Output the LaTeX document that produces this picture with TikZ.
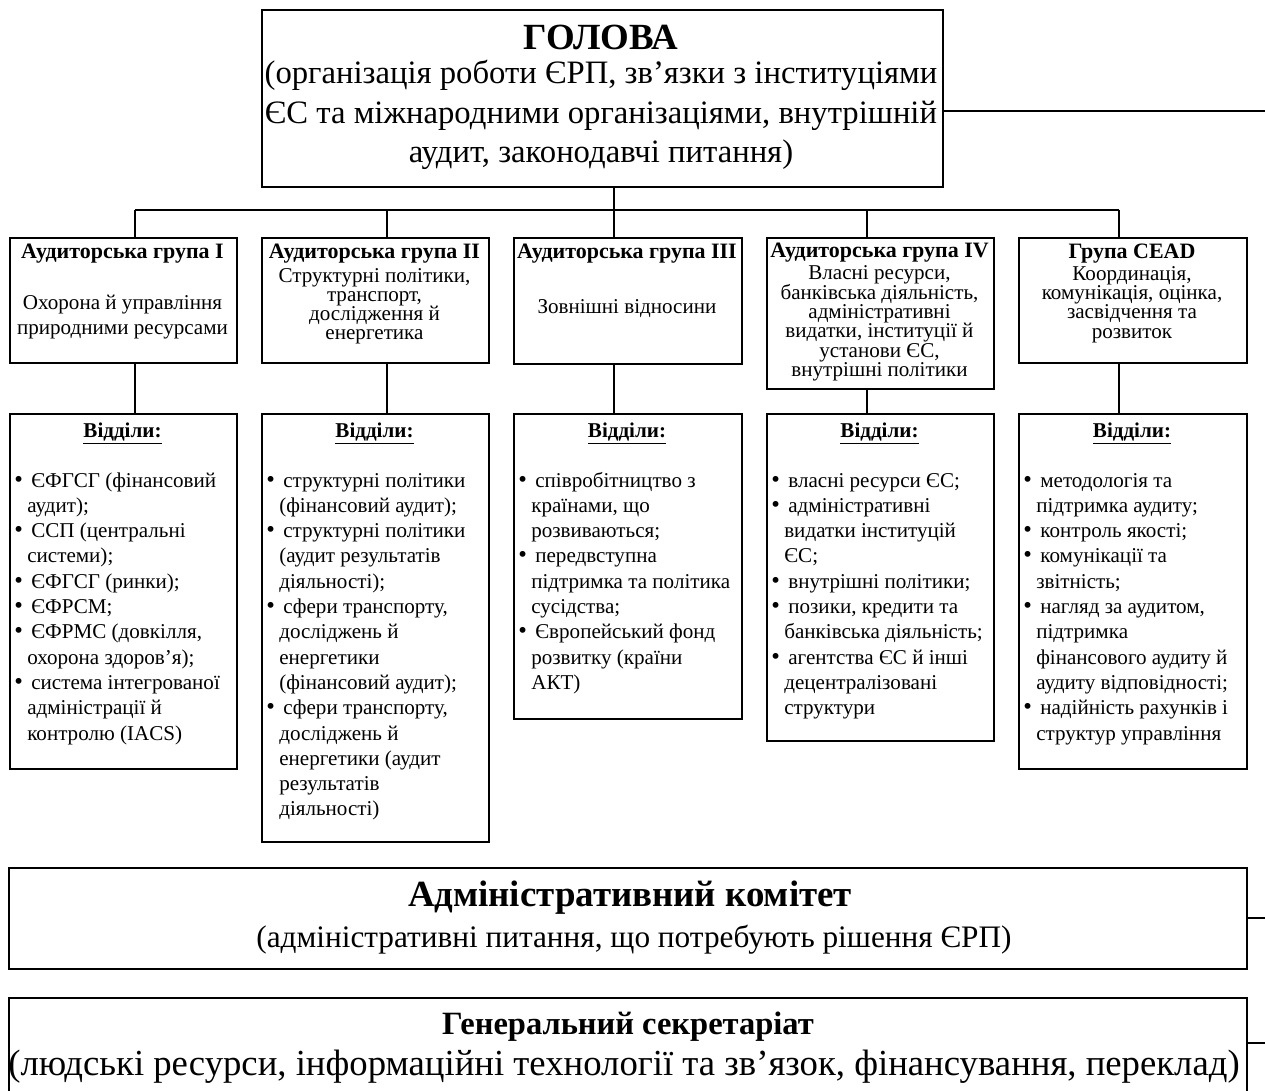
\documentclass[tikz,border=0pt]{standalone}
\usepackage{fontspec}
\setmainfont{Liberation Serif}
\usetikzlibrary{positioning}
\newlength{\px}\setlength{\px}{0.02cm}
\newcommand{\itm}{\hspace{1.2pt}{\fontsize{14}{14.4}\selectfont\textbullet}&\hspace{2.3pt}}
\newenvironment{deps}{\begin{tabular}{@{}p{8.5pt}@{}l@{}}}{\end{tabular}}
\tikzset{
  box/.style={draw, line width=0.9pt, inner sep=0pt, anchor=north west},
  link/.style={line width=0.9pt},
  grphead/.style={inner sep=0pt, anchor=north, font=\fontsize{12.5}{14}\selectfont\bfseries},
  grpbody/.style={inner sep=0pt, anchor=north, align=center, font=\fontsize{12}{#1}\selectfont,
    execute at begin node={\lineskiplimit=-10pt\relax}},
  depthead/.style={inner sep=0pt, anchor=north, font=\fontsize{12}{14}\selectfont\bfseries},
  deplist/.style={inner sep=0pt, anchor=north west, font=\fontsize{12}{14.4}\selectfont},
  bigttl/.style={inner sep=0pt, anchor=north, font=\fontsize{#1}{#1}\selectfont\bfseries},
  bigtxt/.style={inner sep=0pt, anchor=north, align=center, font=\fontsize{#1}{22.5}\selectfont}
}
\begin{document}
\begin{tikzpicture}[x=0.02cm,y=-0.02cm]
\useasboundingbox (0,0) rectangle (1265,1091);
\clip (0,0) rectangle (1265,1091);

% chairman
\node[box, minimum width=681*\px, minimum height=177*\px] (head) at (261,9) {};
\node[bigttl=21] (headttl) at (601,25) {ГОЛОВА};
\node[bigtxt=18.6] (headtxt) at (601,60) {(організація роботи ЄРП, зв’язки з інституціями\\ЄС та міжнародними організаціями, внутрішній\\аудит, законодавчі питання)};

% audit groups
\node[box, minimum width=227*\px, minimum height=125*\px] (g1) at (9,237) {};
\node[box, minimum width=227*\px, minimum height=125*\px] (g2) at (261,237) {};
\node[box, minimum width=228*\px, minimum height=126*\px] (g3) at (513,237) {};
\node[box, minimum width=227*\px, minimum height=151*\px] (g4) at (766,237) {};
\node[box, minimum width=228*\px, minimum height=125*\px] (g5) at (1018,237) {};

\node[grphead] (g1h) at (122.5,244) {Аудиторська група I};
\node[grphead] (g2h) at (374.5,244) {Аудиторська група II};
\node[grphead] (g3h) at (627,244) {Аудиторська група III};
\node[grphead] (g4h) at (879.5,243) {Аудиторська група IV};
\node[grphead] (g5h) at (1132,243.5) {Група CEAD};

\node[grpbody=14.2] (g1b) at (122.5,294.5) {Охорона й управління\\природними ресурсами};
\node[grpbody=10.8] (g2b) at (374.5,268.5) {Структурні політики,\\транспорт,\\дослідження й\\енергетика};
\node[grpbody=14] (g3b) at (627,299.5) {Зовнішні відносини};
\node[grpbody=11] (g4b) at (879.5,265.5) {Власні ресурси,\\банківська діяльність,\\адміністративні\\видатки, інституції й\\установи ЄС,\\внутрішні політики};
\node[grpbody=11] (g5b) at (1132,266) {Координація,\\комунікація, оцінка,\\засвідчення та\\розвиток};

% departments
\node[box, minimum width=227*\px, minimum height=355*\px] (d1) at (9,413) {};
\node[box, minimum width=227*\px, minimum height=428*\px] (d2) at (261,413) {};
\node[box, minimum width=228*\px, minimum height=305*\px] (d3) at (513,413) {};
\node[box, minimum width=227*\px, minimum height=327*\px] (d4) at (766,413) {};
\node[box, minimum width=228*\px, minimum height=355*\px] (d5) at (1018,413) {};

\foreach \i/\x in {1/122.5,2/374.5,3/627,4/879.5,5/1132}
  \node[depthead] (d\i h) at (\x,422.5) {\underline{Відділи:}};

\node[deplist] (d1l) at (12,469) {\begin{deps}
\itm ЄФГСГ (фінансовий\\ & аудит);\\
\itm ССП (центральні\\ & системи);\\
\itm ЄФГСГ (ринки);\\
\itm ЄФРСМ;\\
\itm ЄФРМС (довкілля,\\ & охорона здоров’я);\\
\itm система інтегрованої\\ & адміністрації й\\ & контролю (IACS)
\end{deps}};
\node[deplist] (d2l) at (264,469) {\begin{deps}
\itm структурні політики\\ & (фінансовий аудит);\\
\itm структурні політики\\ & (аудит результатів\\ & діяльності);\\
\itm сфери транспорту,\\ & досліджень й\\ & енергетики\\ & (фінансовий аудит);\\
\itm сфери транспорту,\\ & досліджень й\\ & енергетики (аудит\\ & результатів\\ & діяльності)
\end{deps}};
\node[deplist] (d3l) at (516,469) {\begin{deps}
\itm співробітництво з\\ & країнами, що\\ & розвиваються;\\
\itm передвступна\\ & підтримка та політика\\ & сусідства;\\
\itm Європейський фонд\\ & розвитку (країни\\ & АКТ)
\end{deps}};
\node[deplist] (d4l) at (769,469) {\begin{deps}
\itm власні ресурси ЄС;\\
\itm адміністративні\\ & видатки інституцій\\ & ЄС;\\
\itm внутрішні політики;\\
\itm позики, кредити та\\ & банківська діяльність;\\
\itm агентства ЄС й інші\\ & децентралізовані\\ & структури
\end{deps}};
\node[deplist] (d5l) at (1021,469) {\begin{deps}
\itm методологія та\\ & підтримка аудиту;\\
\itm контроль якості;\\
\itm комунікації та\\ & звітність;\\
\itm нагляд за аудитом,\\ & підтримка\\ & фінансового аудиту й\\ & аудиту відповідності;\\
\itm надійність рахунків і\\ & структур управління
\end{deps}};

% committee and secretariat
\node[box, minimum width=1238*\px, minimum height=101*\px] (admin) at (8,867) {};
\node[bigttl=21] (adminttl) at (630,881) {Адміністративний комітет};
\node[bigtxt=17.8] (admintxt) at (634,925) {(адміністративні питання, що потребують рішення ЄРП)};
\node[box, minimum width=1238*\px, minimum height=110*\px] (gensec) at (8,997) {};
\node[bigttl=18.5] (gensecttl) at (628,1012) {Генеральний секретаріат};
\node[bigtxt=20.9] (gensectxt) at (624,1050) {(людські ресурси, інформаційні технології та зв’язок, фінансування, переклад)};

% connectors
\coordinate (bus) at (614,210);
\coordinate (b1) at (135,210);
\coordinate (b2) at (387,210);
\coordinate (b3) at (614,210);
\coordinate (b4) at (867,210);
\coordinate (b5) at (1119,210);
\draw[link] (head.south -| bus) -- (bus);
\draw[link] (b1) -- (b5);
\foreach \i in {1,...,5}{
  \draw[link] (b\i) -- (b\i |- g\i.north);
  \draw[link] (b\i |- g\i.south) -- (b\i |- d\i.north);
}
\coordinate (hr) at (1265,111);
\coordinate (ar) at (1265,918);
\coordinate (sr) at (1265,1043);
\draw[link] (head.east |- hr) -- (hr);
\draw[link] (admin.east |- ar) -- (ar);
\draw[link] (gensec.east |- sr) -- (sr);
\end{tikzpicture}
\end{document}
